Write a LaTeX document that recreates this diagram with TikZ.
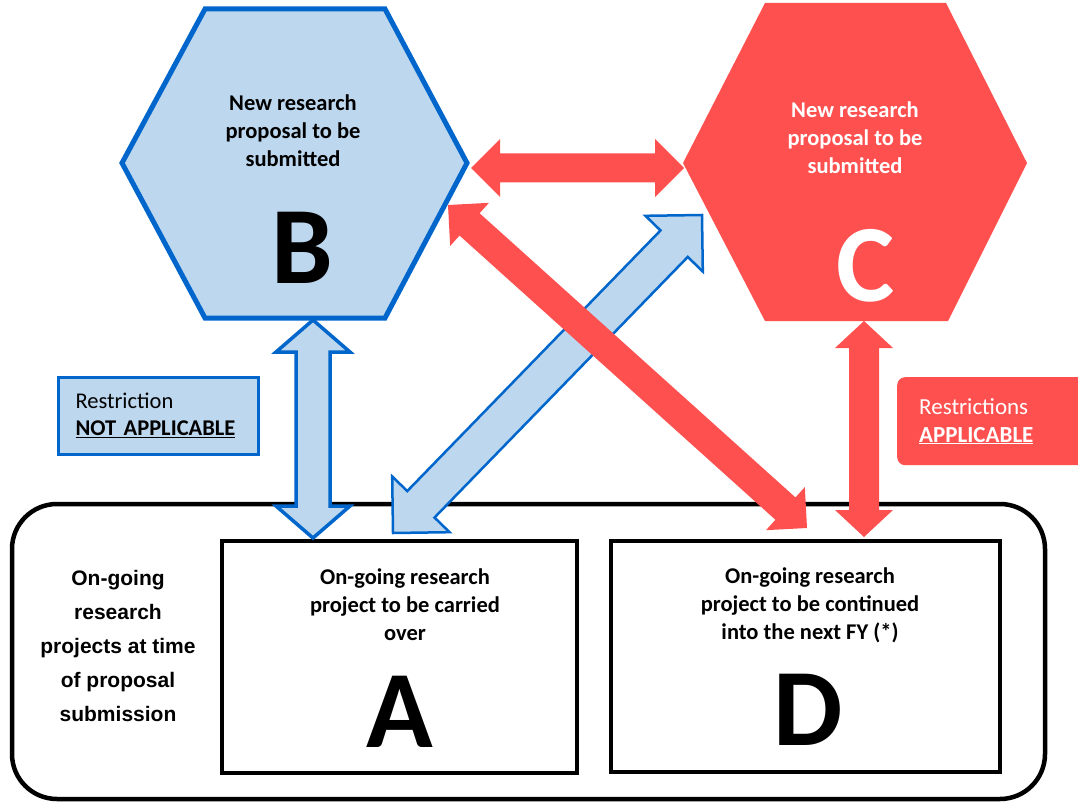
\documentclass[tikz,border=0pt]{standalone}
\usepackage{fontspec}
\setmainfont{Carlito}
\newfontfamily\notofont{Liberation Sans}
\usetikzlibrary{calc}

\definecolor{hexblue}{HTML}{0066CC}
\definecolor{paleblue}{HTML}{BDD7EE}
\definecolor{hexred}{HTML}{FF5050}

% fat double arrow: style, from, to, half shaft, half head, head length
\newcommand{\fatarrow}[6]{%
  \coordinate (h1) at ($(#2)!#6!(#3)$);
  \coordinate (h2) at ($(#3)!#6!(#2)$);
  \path[#1] (#2) -- ($(h1)!#5!90:(#3)$) -- ($(h1)!#4!90:(#3)$)
    -- ($(h2)!#4!-90:(#2)$) -- ($(h2)!#5!-90:(#2)$) -- (#3)
    -- ($(h2)!#5!90:(#2)$) -- ($(h2)!#4!90:(#2)$)
    -- ($(h1)!#4!-90:(#3)$) -- ($(h1)!#5!-90:(#3)$) -- cycle;}

\tikzset{
  hexB/.style={draw=hexblue, fill=paleblue, line width=5pt, line join=miter},
  hexC/.style={fill=hexred},
  projbox/.style={draw=black, line width=4.5pt},
  bluearrow/.style={draw=hexblue, fill=paleblue, line width=2.5pt, line join=miter},
  redarrow/.style={fill=hexred},
  bodytext/.style={align=center, font=\bfseries\fontsize{22.5}{28}\selectfont},
  bigletter/.style={font=\bfseries\fontsize{110}{110}\selectfont},
  leftnote/.style={align=center, font=\notofont\bfseries\fontsize{21}{34}\selectfont},
  restrblue/.style={draw=hexblue, fill=paleblue, line width=3pt, align=left,
    text width=166pt, inner xsep=17pt, minimum height=77pt,
    font=\fontsize{22.5}{27}\selectfont},
  restrred/.style={fill=hexred, rounded corners=8pt, align=left, text=white,
    text width=150pt, inner xsep=22pt, minimum height=88pt,
    font=\fontsize{23}{28}\selectfont}
}

\begin{document}
\begin{tikzpicture}[x=1pt, y=-1pt]
\clip (0,0) rectangle (1078,802);

% on-going projects frame
\draw[line width=4.5pt, rounded corners=45pt] (12,504) rectangle (1045,799);
\node[leftnote] (ongoing) at (118,646) {On-going\\research\\projects at time\\of proposal\\submission};

% A and D
\draw[projbox] (222,541) rectangle (577,773);
\node[bodytext] (Atxt) at (405,605) {On-going research\\project to be carried\\over};
\node[bigletter] (A) at (400,712) {A};

\draw[projbox] (611,541) rectangle (1000,772);
\node[bodytext] (Dtxt) at (810,605) {On-going research\\project to be continued\\into the next FY (*)};
\node[bigletter] (D) at (808,710) {D};

% B and C
\draw[hexB] (122,163) -- (205,9) -- (385,9) -- (467,163) -- (385,318) -- (205,318) -- cycle;
\node[bodytext] (Btxt) at (293,131) {New research\\proposal to be\\submitted};
\node[bigletter] (B) at (302,248) {B};

\fill[hexC] (683,163) -- (765,3) -- (946,3) -- (1027,163) -- (948,321) -- (765,321) -- cycle;
\node[bodytext, text=white] (Ctxt) at (855,138) {New research\\proposal to be\\submitted};
\node[bigletter, text=white] (C) at (866,266) {C};

% arrow ends
\coordinate (Bbot) at (313,320);
\coordinate (Atop) at (313,538);
\coordinate (Acorner) at (393,533);
\coordinate (Cleft) at (702,215);
\coordinate (Bpoint) at (471,168);
\coordinate (Cpoint) at (684,168);
\coordinate (Bedge) at (448,205);
\coordinate (Dtop) at (807,528);
\coordinate (Cbot) at (864,321);
\coordinate (Dup) at (864,537);

\fatarrow{bluearrow, line width=3.5pt}{Bbot}{Atop}{17pt}{37pt}{32pt}
\fatarrow{bluearrow}{Acorner}{Cleft}{19pt}{40pt}{40pt}
\fatarrow{redarrow}{Bpoint}{Cpoint}{14.5pt}{29pt}{29pt}
\fatarrow{redarrow}{Bedge}{Dtop}{15pt}{29pt}{29pt}
\fatarrow{redarrow}{Cbot}{Dup}{15pt}{29pt}{27pt}

% restriction notes
\node[restrblue] (notapp) at (158.5,415.5) {Restriction\\\textbf{\underline{NOT APPLICABLE}}};
\node[restrred, anchor=north west] (app) at (897,377) {Restrictions\\\textbf{\underline{APPLICABLE}}};
\end{tikzpicture}
\end{document}
